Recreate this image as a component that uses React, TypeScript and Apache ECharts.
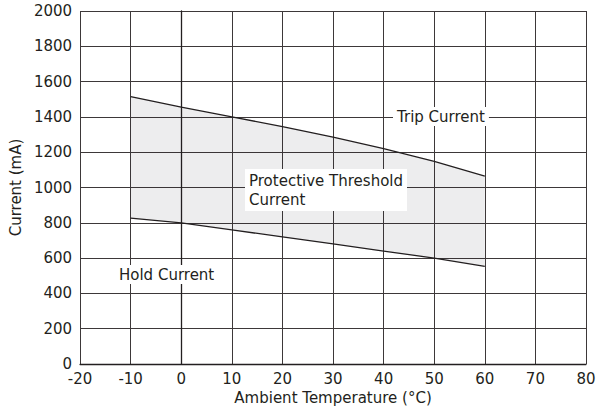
import React, { useEffect, useRef } from "react";
import * as echarts from "echarts";

const temps = [-10, 0, 10, 20, 30, 40, 50, 60];
const tripCurrent = [1515, 1455, 1400, 1345, 1285, 1220, 1148, 1065];
const holdCurrent = [826, 800, 760, 720, 680, 640, 600, 553];

const FONT = "DejaVu Sans";
const TEXT = "#231f20";
const GRID = "#3d3839";

export default function App() {
  const ref = useRef<HTMLDivElement>(null);
  useEffect(() => {
    if (!ref.current) return;
    const chart = echarts.init(ref.current, undefined, { renderer: "svg" });
    const holdData = temps.map((t, i) => [t, holdCurrent[i]]);
    const tripData = temps.map((t, i) => [t, tripCurrent[i]]);
    chart.setOption({
      animation: false,
      backgroundColor: "#ffffff",
      textStyle: { fontFamily: FONT, color: TEXT },
      grid: { left: 76, right: 13, top: 11, bottom: 50, containLabel: false },
      xAxis: {
        type: "value",
        min: -20,
        max: 80,
        interval: 10,
        name: "Ambient Temperature (°C)",
        nameLocation: "middle",
        nameGap: 26,
        nameTextStyle: { fontFamily: FONT, fontSize: 15, color: TEXT },
        axisLine: { show: true, lineStyle: { color: TEXT, width: 1.3 } },
        axisTick: { show: false },
        axisLabel: { fontFamily: FONT, fontSize: 15, color: TEXT, margin: 7 },
        splitLine: { show: true, lineStyle: { color: GRID, width: 1 } },
      },
      yAxis: {
        type: "value",
        min: 0,
        max: 2000,
        interval: 200,
        name: "Current (mA)",
        nameLocation: "middle",
        nameGap: 54,
        nameTextStyle: { fontFamily: FONT, fontSize: 15, color: TEXT },
        axisLine: { show: true, lineStyle: { color: TEXT, width: 1.3 } },
        axisTick: { show: false },
        axisLabel: {
          fontFamily: FONT,
          fontSize: 15,
          color: TEXT,
          margin: 8,
          formatter: (v: number) => String(v),
        },
        splitLine: { show: true, lineStyle: { color: GRID, width: 1 } },
      },
      series: [
        {
          name: "Protective Threshold",
          type: "custom",
          data: [[0]],
          z: 1,
          renderItem: (_params: any, api: any) => {
            const upper = temps.map((t, i) => api.coord([t, tripCurrent[i]]));
            const lower = temps
              .map((t, i) => api.coord([t, holdCurrent[i]]))
              .reverse();
            return {
              type: "polygon",
              shape: { points: upper.concat(lower) },
              style: { fill: "rgba(20,30,40,0.078)", stroke: "none" },
            };
          },
        },
        {
          name: "Hold Current",
          type: "line",
          data: holdData,
          symbol: "none",
          lineStyle: { color: TEXT, width: 1.3 },
          z: 3,
        },
        {
          name: "Trip Current",
          type: "line",
          data: tripData,
          symbol: "none",
          lineStyle: { color: TEXT, width: 1.3 },
          z: 3,
        },
      ],
      graphic: [
        {
          type: "text",
          left: 393,
          top: 107,
          z: 10,
          style: {
            text: "Trip Current",
            font: `15px "${FONT}"`,
            fill: TEXT,
            backgroundColor: "#ffffff",
            padding: [2, 4, 2, 4],
          },
        },
        {
          type: "text",
          left: 245,
          top: 169,
          z: 10,
          style: {
            text: "Protective Threshold\nCurrent",
            font: `15px "${FONT}"`,
            lineHeight: 19,
            fill: TEXT,
            backgroundColor: "#ffffff",
            padding: [2, 4, 2, 4],
          },
        },
        {
          type: "text",
          left: 115,
          top: 265,
          z: 10,
          style: {
            text: "Hold Current",
            font: `15px "${FONT}"`,
            fill: TEXT,
            backgroundColor: "#ffffff",
            padding: [2, 4, 2, 4],
          },
        },
      ],
    });
    return () => chart.dispose();
  }, []);
  return <div ref={ref} style={{ width: 599, height: 414, position: "absolute", left: 0, top: 0 }} />;
}
